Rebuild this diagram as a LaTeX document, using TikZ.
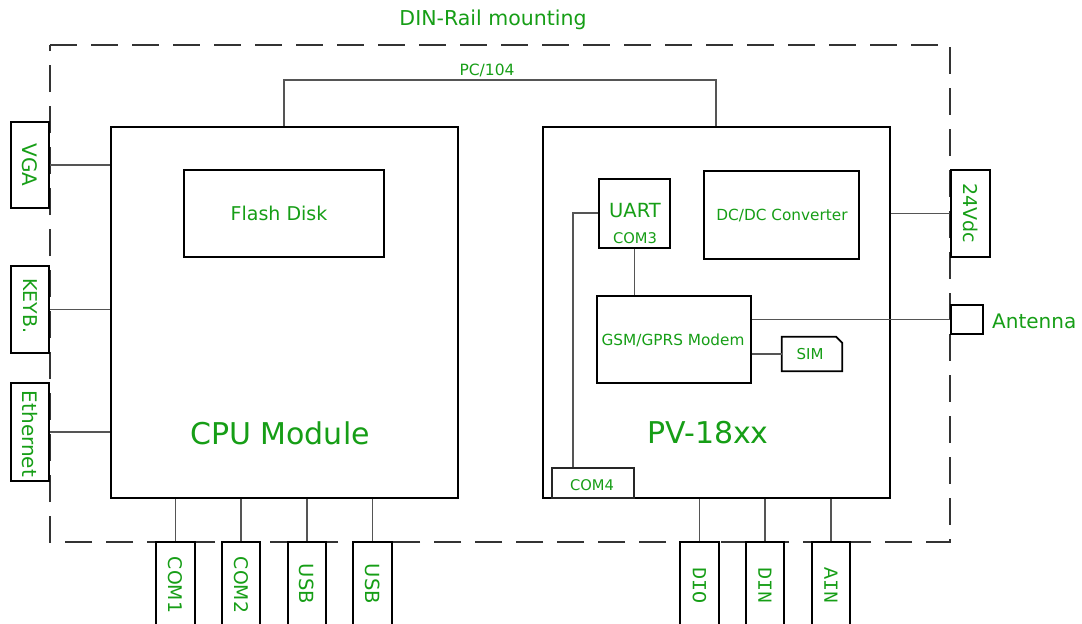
\documentclass[tikz,border=0pt]{standalone}
\usepackage{fontspec}
\setmainfont{DejaVu Sans}
\newfontfamily\monofam{Liberation Mono}
\newcommand{\fsz}[1]{\fontsize{#1}{#1}\selectfont}
\definecolor{txtgreen}{RGB}{22,158,22}
\definecolor{wire}{RGB}{85,85,85}
\tikzset{
  box/.style={draw=black, line width=1.8pt, fill=white, inner sep=0pt, anchor=center},
  thinbox/.style={draw=black!85, line width=1.1pt, fill=white, inner sep=0pt, anchor=center},
  lbl/.style={text=txtgreen, inner sep=0pt, anchor=center},
  vlbl/.style={lbl, rotate=-90},
  wireline/.style={draw=wire, line width=1.1pt},
  rail/.style={draw=black!80, line width=1.1pt, dash pattern=on 27pt off 14pt},
}
\begin{document}
\begin{tikzpicture}[x=1pt,y=-1pt]
\useasboundingbox (0,0) rectangle (1082,624);
\clip (0,0) rectangle (1082,624);
\fill[white] (0,0) rectangle (1082,624);

% DIN rail dashed frame
\draw[rail] (50,45) -- (950,45) -- (950,542) -- (50,542) -- cycle;
\node[lbl, font=\fsz{20.5}] (title) at (493,20) {DIN-Rail mounting};

% main modules
\node[box, minimum width=347pt, minimum height=371pt] (cpu) at (284.5,312.5) {};
\node[lbl, font=\fsz{30}] (cputxt) at (280,433) {CPU Module};
\node[box, minimum width=200pt, minimum height=87pt] (flash) at (284,213.5) {};
\node[lbl, font=\fsz{19}] (flashtxt) at (279,213) {Flash Disk};

\node[box, minimum width=347pt, minimum height=371pt] (pv) at (716.5,312.5) {};
\node[lbl, font=\fsz{30}] (pvtxt) at (708,433) {PV-18xx};

\node[box, minimum width=71pt, minimum height=69pt] (uart) at (634.5,213.5) {};
\node[lbl, font=\fsz{19.5}] (uarttxt) at (635,211) {UART};
\node[lbl, font=\fsz{14.7}] (com3txt) at (635,238) {COM3};

\node[box, minimum width=155pt, minimum height=88pt] (dcdc) at (781.5,215) {};
\node[lbl, font=\fsz{15.3}] (dcdctxt) at (782,216) {DC/DC Converter};

\node[box, minimum width=154pt, minimum height=87pt] (modem) at (674,339.5) {};
\node[lbl, font=\fsz{15.3}] (modemtxt) at (673,340) {GSM/GPRS Modem};

\node[inner sep=0pt, minimum width=60pt, minimum height=34pt] (sim) at (812,354) {};
\draw[line width=1.8pt, fill=white, line join=miter]
  (sim.south west) -- (sim.north west) -- ([xshift=-6pt]sim.north east)
  -- ([yshift=-6pt]sim.north east) -- (sim.south east) -- cycle;
\node[lbl, font=\fsz{15}] (simtxt) at (810,354) {SIM};

\node[thinbox, minimum width=82pt, minimum height=30pt] (com4) at (593,483) {};
\node[lbl, font=\fsz{14.7}] (com4txt) at (592,485) {COM4};

% left connectors
\node[box, minimum width=38pt, minimum height=86pt] (vga) at (30,165) {};
\node[vlbl, font=\fsz{20}] (vgatxt) at (30,165) {VGA};
\node[box, minimum width=38pt, minimum height=87pt] (keyb) at (30,309.5) {};
\node[vlbl, font=\fsz{19}] (keybtxt) at (30,306) {KEYB.};
\node[box, minimum width=38pt, minimum height=98pt] (eth) at (30,432) {};
\node[vlbl, font=\fsz{20}] (ethtxt) at (30,434) {Ethernet};

% right connectors
\node[box, minimum width=39pt, minimum height=87pt] (vdc) at (970.5,213.5) {};
\node[vlbl, font=\fsz{19}] (vdctxt) at (970.5,213) {24Vdc};
\node[box, minimum width=32pt, minimum height=29pt] (ant) at (967,319.5) {};
\node[lbl, font=\fsz{20}, anchor=west] (anttxt) at (992,321) {Antenna};

% bottom connectors
\node[box, minimum width=39pt, minimum height=110pt] (com1) at (175.5,597) {};
\node[vlbl, font=\fsz{18.8}] (com1txt) at (175.5,585) {COM1};
\node[box, minimum width=38pt, minimum height=110pt] (com2) at (241,597) {};
\node[vlbl, font=\fsz{18.8}] (com2txt) at (241,585) {COM2};
\node[box, minimum width=38pt, minimum height=110pt] (usba) at (307,597) {};
\node[vlbl, font=\fsz{19.5}] (usbatxt) at (307,584) {USB};
\node[box, minimum width=39pt, minimum height=110pt] (usbb) at (372.5,597) {};
\node[vlbl, font=\fsz{19.5}] (usbbtxt) at (372.5,584) {USB};

\node[box, minimum width=39pt, minimum height=110pt] (dio) at (699.5,597) {};
\node[vlbl, font=\monofam\fsz{20}] (diotxt) at (699.5,585) {DIO};
\node[box, minimum width=38pt, minimum height=110pt] (din) at (765,597) {};
\node[vlbl, font=\monofam\fsz{20}] (dintxt) at (765,585) {DIN};
\node[box, minimum width=38pt, minimum height=110pt] (ain) at (831,597) {};
\node[vlbl, font=\monofam\fsz{20}] (aintxt) at (831,585) {AIN};

% PC/104 bus
\coordinate (b1) at (284,80);
\coordinate (b2) at (716,80);
\draw[wireline] (b1 |- cpu.north) -- (b1) -- (b2) -- (b2 |- pv.north);
\node[lbl, font=\fsz{15.5}] (pctxt) at (487,70) {PC/104};

% wires
\draw[wireline] (vga.east) -- (vga.east -| cpu.west);
\draw[wireline] (keyb.east) -- (keyb.east -| cpu.west);
\draw[wireline] (eth.east) -- (eth.east -| cpu.west);
\draw[wireline] (com1.north) -- (com1.north |- cpu.south);
\draw[wireline] (com2.north) -- (com2.north |- cpu.south);
\draw[wireline] (usba.north) -- (usba.north |- cpu.south);
\draw[wireline] (usbb.north) -- (usbb.north |- cpu.south);
\draw[wireline] (dio.north) -- (dio.north |- pv.south);
\draw[wireline] (din.north) -- (din.north |- pv.south);
\draw[wireline] (ain.north) -- (ain.north |- pv.south);
\draw[wireline] (vdc.west -| pv.east) -- (vdc.west);
\draw[wireline] (ant.west -| modem.east) -- (ant.west);
\draw[wireline] (uart.south) -- (uart.south |- modem.north);
\draw[wireline] (sim.west -| modem.east) -- (sim.west);
\coordinate (c4) at (573,213);
\draw[wireline] (uart.west |- c4) -- (c4) -- (c4 |- com4.north);
\end{tikzpicture}
\end{document}
